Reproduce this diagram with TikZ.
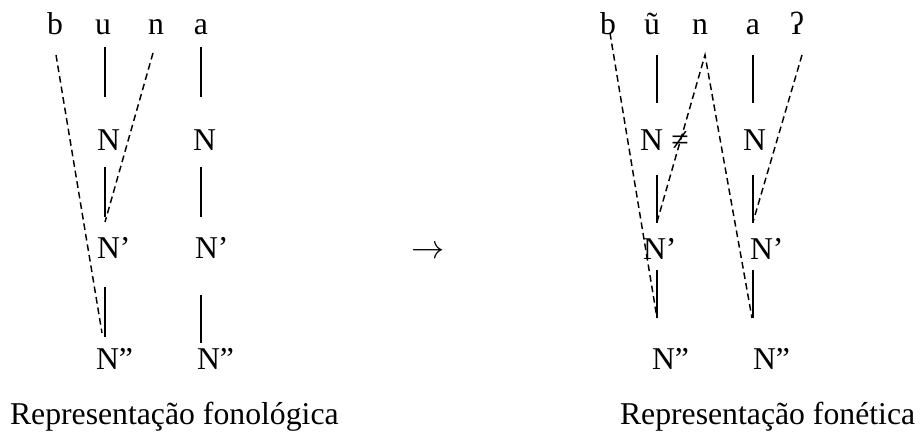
\documentclass[tikz,border=0pt]{standalone}
\usepackage{fontspec}
\setmainfont{Liberation Serif}
\begin{document}
\begin{tikzpicture}[x=0.75pt,y=-0.75pt,
  every node/.style={inner sep=0pt,outer sep=0pt,font=\fontsize{23.8}{28}\selectfont},
  lbl/.style={anchor=base},
  lblw/.style={anchor=base west},
  solidline/.style={line width=1.3pt},
  dashline/.style={line width=1.1pt,dash pattern=on 5pt off 3pt}]
\useasboundingbox (0,0) rectangle (920,432);
% ---------- left: phonological representation ----------
\node[lbl] (lb) at (55,34) {b};
\node[lbl] (lu) at (103,34) {u};
\node[lbl] (ln) at (156,34) {n};
\node[lbl] (la) at (201,34) {a};
\node[lblw] (lN1) at (97,150) {N};
\node[lblw] (lN2) at (193,150) {N};
\node[lblw] (lNp1) at (97,258) {N’};
\node[lblw] (lNp2) at (195,258) {N’};
\node[lblw] (lNpp1) at (96,369) {N”};
\node[lblw] (lNpp2) at (197,369) {N”};
\node[lblw] (lcap) at (10,424) {Representação fonológica};
% connector end points
\coordinate (lu1) at (105,47);  \coordinate (lu2) at (105,97);
\coordinate (lu3) at (105,167); \coordinate (lu4) at (105,217);
\coordinate (lu5) at (105,287); \coordinate (lu6) at (105,337);
\coordinate (la1) at (201,47);  \coordinate (la2) at (201,97);
\coordinate (la3) at (201,167); \coordinate (la4) at (201,217);
\coordinate (la5) at (201,295); \coordinate (la6) at (201,343);
\coordinate (lbs) at (56,55);   \coordinate (lbe) at (102,333);
\coordinate (lns) at (153,53);  \coordinate (lne) at (105,222);
\draw[solidline] (lu1) -- (lu2) (lu3) -- (lu4) (lu5) -- (lu6);
\draw[solidline] (la1) -- (la2) (la3) -- (la4) (la5) -- (la6);
\draw[dashline] (lbs) -- (lbe);
\draw[dashline] (lns) -- (lne);
% ---------- arrow ----------
\node (arr) at (428,252) {$\rightarrow$};
% ---------- right: phonetic representation ----------
\node[lbl] (rb) at (608,34) {b};
\node[lbl] (ru) at (652,34) {ũ};
\node[lbl] (rn) at (700,34) {n};
\node[lbl] (ra) at (753,34) {a};
\node[lbl] (rq) at (797,34) {ʔ};
\node[lblw] (rN1) at (640,150) {N};
\node[lbl] (rneq) at (680,150) {≠};
\node[lblw] (rN2) at (743,150) {N};
\node[lblw] (rNp1) at (643,259) {N’};
\node[lblw] (rNp2) at (750,259) {N’};
\node[lblw] (rNpp1) at (652,369) {N”};
\node[lblw] (rNpp2) at (753,369) {N”};
\node[lblw] (rcap) at (620,424) {Representação fonética};
\coordinate (ru1) at (657,55);  \coordinate (ru2) at (657,103);
\coordinate (ru3) at (657,175); \coordinate (ru4) at (657,223);
\coordinate (ru5) at (657,270); \coordinate (ru6) at (657,318);
\coordinate (ra1) at (753,55);  \coordinate (ra2) at (753,103);
\coordinate (ra3) at (753,175); \coordinate (ra4) at (753,223);
\coordinate (ra5) at (753,270); \coordinate (ra6) at (753,318);
\coordinate (rbs) at (610,33);  \coordinate (rbe) at (657,318);
\coordinate (rnt) at (705,55);
\coordinate (rnl) at (657,222); \coordinate (rnr) at (752,318);
\coordinate (rqs) at (802,55);  \coordinate (rqe) at (753,222);
\draw[solidline] (ru1) -- (ru2) (ru3) -- (ru4) (ru5) -- (ru6);
\draw[solidline] (ra1) -- (ra2) (ra3) -- (ra4) (ra5) -- (ra6);
\draw[dashline] (rbs) -- (rbe);
\draw[dashline] (rnl) -- (rnt) -- (rnr);
\draw[dashline] (rqs) -- (rqe);
\end{tikzpicture}
\end{document}
